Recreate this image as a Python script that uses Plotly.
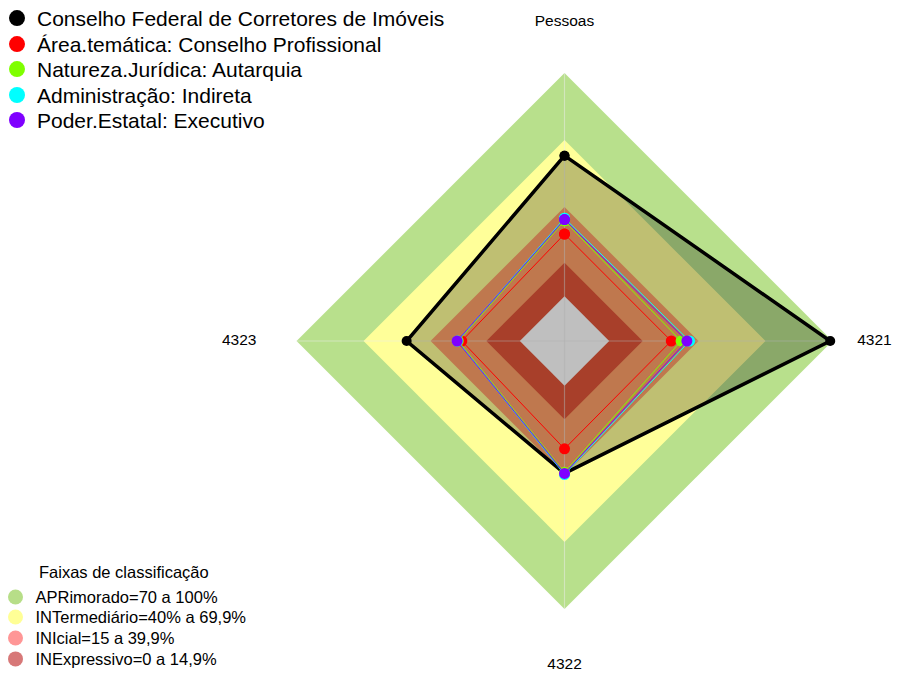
import plotly.graph_objects as go

categories = ["Pessoas", "4321", "4322", "4323"]

series_names = [
    "Conselho Federal de Corretores de Imóveis",
    "Área.temática: Conselho Profissional",
    "Natureza.Jurídica: Autarquia",
    "Administração: Indireta",
    "Poder.Estatal: Executivo",
]
conselho_federal = [63.0, 99.0, 39.3, 50.7]
area_tematica = [27.9, 27.8, 28.3, 26.0]
natureza_juridica = [33.8, 32.2, 38.8, 27.6]
administracao = [35.0, 36.0, 39.8, 28.0]
poder_estatal = [34.4, 34.8, 39.3, 28.1]
series_values = [conselho_federal, area_tematica, natureza_juridica, administracao, poder_estatal]
series_colors = ["#000000", "#FF0000", "#7FFF00", "#00FFFF", "#7F00FF"]

band_title = "Faixas de classificação"
band_names = [
    "APRimorado=70 a 100%",
    "INTermediário=40% a 69,9%",
    "INIcial=15 a 39,9%",
    "INExpressivo=0 a 14,9%",
]
band_limits = [100, 70, 40, 15, 0]
band_fill_colors = ["#B8E08C", "#FFFF99", "#FFA068", "#E05538", "#FFFFFF"]
band_legend_colors = ["#B7DE88", "#FFFF96", "#FF9696", "#D77878"]

R_MIN, R_MAX = -20, 126
# radial position of each axis label (layout only)
LABEL_R = [123.0, 118.8, 125.0, 125.7]

theta_closed = categories + [categories[0]]
font_family = "Arial, Liberation Sans, sans-serif"

# the page body has an 8px margin, so the figure is sized to fit the window
PAGE_OFF = 8
W, H = 902 - PAGE_OFF, 673 - PAGE_OFF
M_T, M_B = 6.6, 6.2
PLOT_H = H - M_T - M_B


def py_to_paper(py_window):
    return 1 - (py_window - PAGE_OFF - M_T) / PLOT_H


def px_to_paper(px_window):
    return (px_window - PAGE_OFF) / W


fig = go.Figure()

# classification bands (stacked filled polygons)
for lim, col in zip(band_limits, band_fill_colors):
    fig.add_trace(go.Scatterpolar(
        r=[lim] * len(categories) + [lim], theta=theta_closed,
        mode="lines", fill="toself", fillcolor=col,
        line=dict(width=0, color=col), showlegend=False, hoverinfo="skip",
    ))

# axis spokes from centre to 100%
spoke_r, spoke_t = [], []
for c in categories:
    spoke_r += [R_MIN, band_limits[0], None]
    spoke_t += [c, c, None]
fig.add_trace(go.Scatterpolar(
    r=spoke_r, theta=spoke_t, mode="lines",
    line=dict(color="rgba(235,235,235,0.5)", width=1.2),
    showlegend=False, hoverinfo="skip",
))

# data series
for i, (name, vals, col) in enumerate(zip(series_names, series_values, series_colors)):
    is_main = i == 0
    fig.add_trace(go.Scatterpolar(
        r=vals + [vals[0]], theta=theta_closed,
        mode="lines+markers", name=name,
        fill="toself" if is_main else None,
        fillcolor="rgba(0,0,0,0.25)" if is_main else None,
        line=dict(color=col, width=3.5 if is_main else 1),
        marker=dict(color=col, size=10 if is_main else 11),
        showlegend=False,
    ))

# axis (category) labels placed around the chart
fig.add_trace(go.Scatterpolar(
    r=LABEL_R, theta=categories, text=categories,
    mode="text", textposition="middle center",
    textfont=dict(size=15.5, family=font_family, color="#000000"),
    cliponaxis=False, showlegend=False, hoverinfo="skip",
))

layout_legends = {}

# legend entries for series (one small legend per entry to control spacing)
series_legend_y = [18, 44, 69, 95, 120]
for i, (name, col) in enumerate(zip(series_names, series_colors)):
    key = "legend" if i == 0 else f"legend{i + 1}"
    fig.add_trace(go.Scatterpolar(
        r=[None], theta=[None], mode="markers", name=name,
        marker=dict(color=col, size=16), legend=key, hoverinfo="skip",
    ))
    layout_legends[key] = dict(
        x=px_to_paper(17 - 20), y=py_to_paper(series_legend_y[i]),
        xanchor="left", yanchor="middle",
        font=dict(size=21, family=font_family), bgcolor="rgba(0,0,0,0)",
    )

# legend entries for classification bands
band_legend_y = [597, 617, 638, 659]
for j, (name, col) in enumerate(zip(band_names, band_legend_colors)):
    key = f"legend{6 + j}"
    fig.add_trace(go.Scatterpolar(
        r=[None], theta=[None], mode="markers", name=name,
        marker=dict(color=col, size=15), legend=key, hoverinfo="skip",
    ))
    layout_legends[key] = dict(
        x=px_to_paper(15.5 - 20), y=py_to_paper(band_legend_y[j]),
        xanchor="left", yanchor="middle",
        font=dict(size=16.5, family=font_family), bgcolor="rgba(0,0,0,0)",
    )

fig.add_annotation(
    text=band_title, xref="paper", yref="paper", x=px_to_paper(124), y=py_to_paper(572),
    xanchor="center", yanchor="middle", showarrow=False,
    font=dict(size=16.5, family=font_family, color="#000000"),
)

fig.update_layout(
    width=W, height=H,
    margin=dict(l=0, r=0, t=M_T, b=M_B, autoexpand=False),
    paper_bgcolor="white",
    font=dict(family=font_family, color="#000000"),
    polar=dict(
        domain=dict(x=[0.257, 0.988], y=[0, 1]),
        bgcolor="rgba(0,0,0,0)",
        gridshape="linear",
        radialaxis=dict(visible=False, range=[R_MIN, R_MAX], showgrid=False),
        angularaxis=dict(
            direction="clockwise", rotation=90, showline=False, ticks="",
            showgrid=False, showticklabels=False,
        ),
    ),
    showlegend=True,
    **layout_legends,
)

fig.write_html("out.html")
